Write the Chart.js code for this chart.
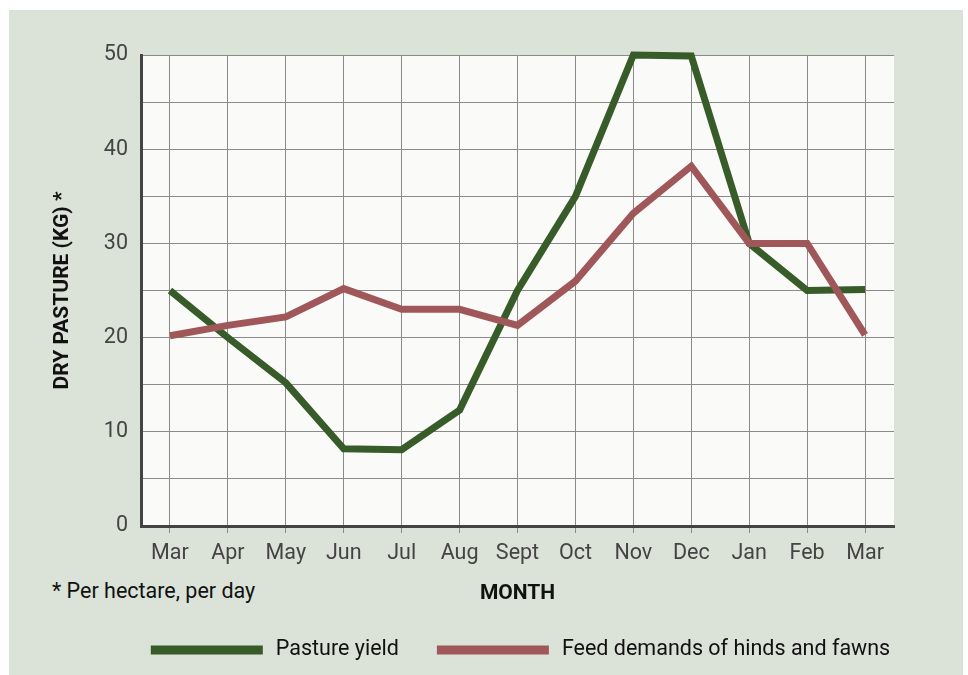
<!DOCTYPE html>
<html>
<head>
<meta charset="utf-8">
<script src="https://cdn.jsdelivr.net/npm/chart.js@4/dist/chart.umd.min.js"></script>
<style>
    html, body {margin: 0; padding: 0; background: #fff;}
    #wrap {position: relative; width: 968px; height: 675px;}
    #panel {position: absolute; left: 9px; top: 10px; width: 954px; height: 665px; background: #dbe2d7;}
    #note {position: absolute; left: 52px; top: 578px; font: 21.5px Roboto, sans-serif; color: #111; line-height: 26px;}
    canvas {position: absolute; left: 0; top: 0;}
</style>
</head>
<body>
<div id="wrap">
    <div id="panel"></div>
    <div id="note">* Per hectare, per day</div>
    <canvas id="chart" width="968" height="675"></canvas>
</div>
<script>
const months = ['Mar', 'Apr', 'May', 'Jun', 'Jul', 'Aug', 'Sept', 'Oct', 'Nov', 'Dec', 'Jan', 'Feb', 'Mar']
const pastureYield = [25, 20, 15.2, 8.2, 8.1, 12.3, 25, 35, 50, 49.9, 30, 25, 25.1]
const feedDemand = [20.2, 21.3, 22.2, 25.2, 23, 23, 21.3, 26, 33.2, 38.2, 30, 30, 20.3]
const yTicks = [0, 10, 20, 30, 40, 50]

const green = '#385c29'
const red = '#a0575a'

const plotBg = {
    id: 'plotBg',
    beforeDraw(chart) {
        const {ctx, chartArea: a} = chart
        ctx.save()
        ctx.fillStyle = '#fafaf8'
        ctx.fillRect(a.left, a.top, a.right - a.left, a.bottom - a.top)
        ctx.restore()
    }
}

// legend drawn by hand so both items stay on one row under the plot
const lineLegend = {
    id: 'lineLegend',
    afterDraw(chart) {
        const {ctx, chartArea: a} = chart
        const boxW = 112, gap = 13, spacing = 38, y = 650
        ctx.save()
        ctx.font = '21.5px Roboto'
        ctx.textBaseline = 'middle'
        const items = chart.data.datasets.map(ds => ({
            text: ds.label, color: ds.borderColor, w: ctx.measureText(ds.label).width
        }))
        const total = items.reduce((s, it) => s + boxW + gap + it.w, 0) + spacing * (items.length - 1)
        let x = (a.left + a.right) / 2 + 3 - total / 2
        items.forEach(it => {
            ctx.fillStyle = it.color
            ctx.fillRect(x, y - 4.5, boxW, 9)
            ctx.fillStyle = '#111'
            ctx.fillText(it.text, x + boxW + gap, y)
            x += boxW + gap + it.w + spacing
        })
        ctx.restore()
    }
}

const tickFont = {family: 'Roboto', size: 21.5}
const titleFont = {family: 'Roboto', size: 21, weight: 'bold'}

new Chart(document.getElementById('chart'), {
    type: 'line',
    data: {
        labels: months,
        datasets: [
            {
                label: 'Pasture yield',
                data: pastureYield,
                borderColor: green,
                backgroundColor: green,
                order: 1
            },
            {
                label: 'Feed demands of hinds and fawns',
                data: feedDemand,
                borderColor: red,
                backgroundColor: red,
                order: 0
            }
        ]
    },
    options: {
        responsive: false,
        animation: false,
        clip: 8,
        elements: {
            point: {radius: 0},
            line: {borderWidth: 7, tension: 0, borderCapStyle: 'butt', borderJoinStyle: 'miter'}
        },
        layout: {padding: {top: 55, right: 74, left: 0, bottom: 69}},
        plugins: {
            tooltip: {enabled: false},
            legend: {display: false}
        },
        scales: {
            x: {
                offset: true,
                grid: {offset: false, color: '#8a8a8a', lineWidth: 1, tickLength: 7},
                border: {color: '#444', width: 3},
                ticks: {color: '#444', font: tickFont, padding: 8, maxRotation: 0, autoSkip: false},
                title: {display: true, text: 'MONTH', color: '#111', font: titleFont, padding: {top: 0, bottom: 0}},
                afterFit(scale) { scale.height = 80 }
            },
            y: {
                min: 0,
                max: 50,
                grid: {color: '#8a8a8a', lineWidth: 1, drawTicks: false},
                border: {color: '#444', width: 3},
                ticks: {
                    stepSize: 5,
                    color: '#444',
                    font: tickFont,
                    padding: 13,
                    callback: v => yTicks.includes(v) ? v : ''
                },
                title: {display: true, text: 'DRY PASTURE (KG) *', color: '#111', font: titleFont, padding: {top: 50, bottom: 0}},
                afterFit(scale) { scale.width = 141 }
            }
        }
    },
    plugins: [plotBg, lineLegend]
})
</script>
</body>
</html>
